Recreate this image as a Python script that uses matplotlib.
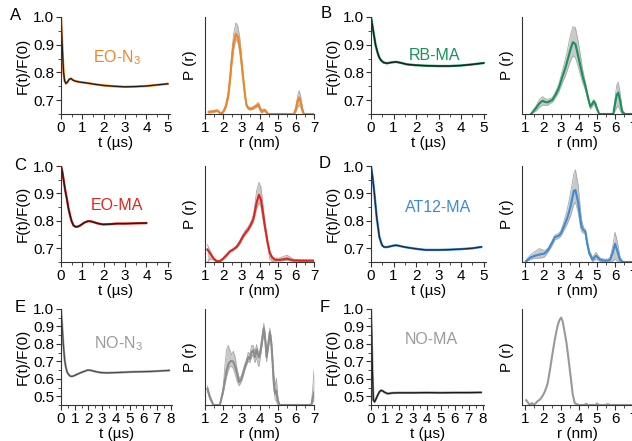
import matplotlib
matplotlib.use("Agg")
import matplotlib.pyplot as plt
from matplotlib.ticker import MultipleLocator

plt.rcParams['font.family'] = ['Liberation Sans', 'DejaVu Sans']
plt.rcParams['mathtext.default'] = 'regular'
plt.rcParams['font.size'] = 10

#===== TIME TRACES (t in us, F(t)/F(0)) =====#
tA = [0, 0.04, 0.08, 0.12, 0.17, 0.23, 0.3, 0.38, 0.47, 0.56, 0.7, 0.9, 1.2, 1.6, 2.0, 2.5, 3.0, 3.5, 4.0, 4.5, 5.0]
fA = [1.0, 0.93, 0.86, 0.80, 0.77, 0.76, 0.765, 0.775, 0.778, 0.772, 0.768, 0.765, 0.762, 0.757, 0.753, 0.75, 0.748, 0.749, 0.751, 0.755, 0.759]

tB = [0, 0.05, 0.1, 0.15, 0.2, 0.28, 0.35, 0.43, 0.55, 0.7, 0.9, 1.1, 1.3, 1.6, 2.0, 2.5, 3.0, 3.5, 4.0, 4.5, 5.0]
fB = [1.0, 0.975, 0.95, 0.925, 0.9, 0.875, 0.857, 0.845, 0.836, 0.833, 0.836, 0.838, 0.835, 0.829, 0.826, 0.824, 0.823, 0.823, 0.825, 0.829, 0.834]

tC = [0, 0.06, 0.12, 0.2, 0.28, 0.35, 0.43, 0.5, 0.58, 0.66, 0.74, 0.85, 0.97, 1.1, 1.27, 1.4, 1.5, 1.7, 1.96, 2.3, 2.6, 3.0, 3.5, 4.0]
fC = [1.0, 0.98, 0.95, 0.91, 0.878, 0.845, 0.818, 0.798, 0.784, 0.779, 0.778, 0.781, 0.787, 0.794, 0.799, 0.798, 0.796, 0.791, 0.787, 0.788, 0.790, 0.790, 0.791, 0.792]

tD = [0, 0.07, 0.15, 0.25, 0.37, 0.45, 0.51, 0.58, 0.66, 0.81, 0.95, 1.1, 1.25, 1.4, 1.6, 1.84, 2.1, 2.43, 3.0, 3.46, 4.0, 4.49, 4.9]
fD = [1.0, 0.96, 0.90, 0.815, 0.742, 0.72, 0.709, 0.705, 0.704, 0.706, 0.709, 0.711, 0.709, 0.706, 0.703, 0.70, 0.697, 0.694, 0.694, 0.695, 0.697, 0.70, 0.705]

tE = [0, 0.08, 0.15, 0.21, 0.27, 0.35, 0.44, 0.55, 0.68, 0.8, 0.93, 1.15, 1.41, 1.7, 1.95, 2.15, 2.39, 2.6, 2.88, 3.3, 4.1, 5.3, 6.5, 7.9]
fE = [1.0, 0.91, 0.82, 0.76, 0.707, 0.668, 0.64, 0.625, 0.615, 0.614, 0.617, 0.625, 0.634, 0.643, 0.65, 0.649, 0.644, 0.64, 0.636, 0.634, 0.636, 0.64, 0.642, 0.648]

tF = [0, 0.05, 0.1, 0.17, 0.26, 0.36, 0.48, 0.6, 0.72, 0.85, 0.95, 1.19, 1.55, 2.0, 3.0, 4.0, 5.0, 6.0, 7.0, 7.9]
fF = [1.0, 0.85, 0.65, 0.478, 0.468, 0.485, 0.506, 0.525, 0.534, 0.53, 0.524, 0.515, 0.519, 0.52, 0.52, 0.521, 0.52, 0.521, 0.521, 0.522]

#===== DISTANCE DISTRIBUTIONS (r in nm, P(r) relative) =====#
rA = [1.2, 1.4, 1.55, 1.65, 1.75, 1.86, 2.0, 2.15, 2.29, 2.4, 2.47, 2.58, 2.7, 2.8, 2.92, 3.0, 3.1, 3.2, 3.28, 3.38,
      3.47, 3.56, 3.65, 3.8, 3.93, 4.02, 4.11, 4.2, 4.3, 4.4, 4.48, 5.9, 6.0, 6.1, 6.18, 6.26, 6.35, 6.44, 7.0]
pA = [0.02, 0.025, 0.03, 0.035, 0.025, 0.005, 0.02, 0.08, 0.2, 0.4, 0.55, 0.73, 0.826, 0.80, 0.69, 0.55, 0.37, 0.2, 0.094, 0.06,
      0.052, 0.055, 0.06, 0.08, 0.10, 0.06, 0.024, 0.035, 0.04, 0.015, 0.0, 0.0, 0.05, 0.13, 0.17, 0.13, 0.05, 0.0, 0.0]
hiA = [0.03, 0.035, 0.04, 0.045, 0.035, 0.01, 0.03, 0.10, 0.24, 0.46, 0.63, 0.83, 0.94, 0.91, 0.78, 0.61, 0.41, 0.22, 0.11, 0.075,
       0.065, 0.07, 0.075, 0.095, 0.12, 0.08, 0.04, 0.05, 0.05, 0.025, 0.0, 0.0, 0.08, 0.19, 0.24, 0.19, 0.08, 0.0, 0.0]
loA = [0.01, 0.015, 0.02, 0.025, 0.015, 0.0, 0.01, 0.06, 0.17, 0.36, 0.50, 0.67, 0.77, 0.74, 0.63, 0.50, 0.33, 0.17, 0.08, 0.05,
       0.04, 0.045, 0.05, 0.065, 0.08, 0.04, 0.01, 0.02, 0.03, 0.005, 0.0, 0.0, 0.02, 0.07, 0.09, 0.07, 0.02, 0.0, 0.0]

rB = [1.33, 1.6, 1.8, 1.97, 2.1, 2.25, 2.4, 2.52, 2.7, 2.88, 3.05, 3.25, 3.4, 3.53, 3.66, 3.8, 3.95, 4.08, 4.2, 4.35,
      4.5, 4.63, 4.72, 4.81, 4.9, 4.99, 5.12, 5.9, 6.0, 6.1, 6.18, 6.28, 6.4, 6.55, 7.0]
pB = [0.0, 0.06, 0.11, 0.136, 0.125, 0.12, 0.135, 0.146, 0.2, 0.27, 0.37, 0.48, 0.58, 0.67, 0.74, 0.72, 0.6, 0.49, 0.39, 0.29,
      0.17, 0.077, 0.1, 0.13, 0.11, 0.06, 0.0, 0.0, 0.1, 0.2, 0.22, 0.14, 0.02, 0.0, 0.0]
hiB = [0.0, 0.08, 0.15, 0.18, 0.16, 0.15, 0.16, 0.17, 0.23, 0.31, 0.43, 0.57, 0.7, 0.82, 0.9, 0.89, 0.75, 0.6, 0.46, 0.33,
       0.19, 0.09, 0.11, 0.15, 0.13, 0.07, 0.0, 0.0, 0.16, 0.3, 0.33, 0.22, 0.05, 0.0, 0.0]
loB = [0.0, 0.03, 0.07, 0.09, 0.09, 0.09, 0.11, 0.12, 0.17, 0.23, 0.31, 0.40, 0.48, 0.55, 0.6, 0.58, 0.49, 0.40, 0.32, 0.25,
       0.14, 0.05, 0.07, 0.1, 0.08, 0.04, 0.0, 0.0, 0.03, 0.07, 0.08, 0.04, 0.0, 0.0, 0.0]

rC = [1.13, 1.3, 1.46, 1.6, 1.73, 1.85, 2.0, 2.2, 2.37, 2.55, 2.74, 2.9, 3.1, 3.25, 3.38, 3.5, 3.65, 3.75, 3.84, 3.97,
      4.08, 4.2, 4.3, 4.45, 4.57, 4.7, 4.85, 5.05, 5.21, 5.35, 5.52, 5.7, 5.85, 6.22, 7.0]
pC = [0.13, 0.085, 0.04, 0.015, 0.007, 0.012, 0.035, 0.075, 0.11, 0.13, 0.157, 0.2, 0.27, 0.31, 0.34, 0.38, 0.44, 0.53, 0.62, 0.70,
      0.65, 0.5, 0.37, 0.2, 0.094, 0.045, 0.024, 0.022, 0.024, 0.03, 0.035, 0.025, 0.017, 0.014, 0.014]
hiC = [0.18, 0.11, 0.05, 0.02, 0.012, 0.02, 0.045, 0.085, 0.12, 0.14, 0.17, 0.22, 0.29, 0.34, 0.37, 0.41, 0.48, 0.6, 0.74, 0.83,
       0.78, 0.58, 0.41, 0.22, 0.11, 0.06, 0.04, 0.04, 0.05, 0.06, 0.07, 0.05, 0.03, 0.025, 0.02]
loC = [0.0, 0.03, 0.02, 0.005, 0.0, 0.005, 0.025, 0.06, 0.1, 0.12, 0.145, 0.18, 0.25, 0.29, 0.32, 0.36, 0.41, 0.48, 0.55, 0.62,
       0.57, 0.43, 0.32, 0.16, 0.03, 0.005, 0.01, 0.012, 0.012, 0.015, 0.017, 0.012, 0.008, 0.008, 0.008]

rD = [1.05, 1.33, 1.55, 1.79, 2.06, 2.2, 2.34, 2.5, 2.66, 2.88, 3.0, 3.16, 3.35, 3.53, 3.71, 3.8, 3.95, 4.13, 4.25, 4.35,
      4.45, 4.57, 4.75, 4.94, 5.05, 5.18, 5.41, 5.6, 5.73, 5.88, 6.0, 6.12, 6.27, 6.45, 7.0]
pD = [0.007, 0.05, 0.065, 0.077, 0.087, 0.11, 0.146, 0.2, 0.26, 0.275, 0.3, 0.37, 0.46, 0.58, 0.74, 0.75, 0.62, 0.37, 0.33, 0.32,
      0.2, 0.094, 0.024, 0.066, 0.045, 0.024, 0.014, 0.015, 0.024, 0.1, 0.19, 0.12, 0.024, 0.0, 0.0]
hiD = [0.02, 0.08, 0.11, 0.14, 0.12, 0.13, 0.16, 0.22, 0.28, 0.3, 0.33, 0.42, 0.55, 0.72, 0.92, 0.96, 0.8, 0.45, 0.36, 0.34,
       0.23, 0.12, 0.05, 0.1, 0.07, 0.04, 0.03, 0.03, 0.05, 0.17, 0.31, 0.22, 0.06, 0.0, 0.0]
loD = [0.0, 0.03, 0.04, 0.04, 0.05, 0.08, 0.12, 0.17, 0.23, 0.25, 0.27, 0.33, 0.4, 0.48, 0.6, 0.62, 0.52, 0.32, 0.3, 0.29,
       0.17, 0.07, 0.005, 0.03, 0.02, 0.005, 0.0, 0.0, 0.0, 0.01, 0.03, 0.01, 0.0, 0.0, 0.0]

rE = [1.13, 1.27, 1.46, 1.82, 2.0, 2.1, 2.19, 2.28, 2.37, 2.47, 2.56, 2.66, 2.76, 2.88, 3.0, 3.1, 3.2, 3.3, 3.38, 3.47,
      3.56, 3.65, 3.75, 3.84, 3.92, 3.97, 4.05, 4.15, 4.24, 4.32, 4.39, 4.48, 4.57, 4.65, 4.72, 4.79, 4.87, 4.93, 5.0, 5.1,
      6.85, 6.92, 7.0]
pE = [0.17, 0.08, 0.0, 0.0, 0.15, 0.26, 0.36, 0.42, 0.45, 0.46, 0.45, 0.4, 0.33, 0.24, 0.27, 0.33, 0.4, 0.45, 0.5, 0.48,
      0.55, 0.57, 0.5, 0.58, 0.52, 0.5, 0.55, 0.68, 0.80, 0.68, 0.5, 0.62, 0.76, 0.65, 0.45, 0.22, 0.12, 0.15, 0.05, 0.0,
      0.0, 0.06, 0.13]
hiE = [0.2, 0.1, 0.0, 0.0, 0.18, 0.42, 0.58, 0.62, 0.57, 0.52, 0.56, 0.5, 0.38, 0.28, 0.3, 0.36, 0.43, 0.48, 0.55, 0.52,
       0.62, 0.62, 0.55, 0.63, 0.56, 0.54, 0.6, 0.74, 0.85, 0.72, 0.54, 0.66, 0.8, 0.69, 0.5, 0.3, 0.2, 0.28, 0.1, 0.0,
       0.0, 0.15, 0.36]
loE = [0.15, 0.06, 0.0, 0.0, 0.12, 0.22, 0.3, 0.36, 0.4, 0.4, 0.38, 0.32, 0.25, 0.2, 0.24, 0.3, 0.37, 0.42, 0.46, 0.44,
       0.5, 0.52, 0.44, 0.5, 0.42, 0.4, 0.5, 0.63, 0.76, 0.62, 0.45, 0.58, 0.72, 0.6, 0.4, 0.15, 0.05, 0.04, 0.0, 0.0,
       0.0, 0.02, 0.05]

rF = [1.06, 1.15, 1.24, 1.38, 1.5, 1.6, 1.7, 1.84, 1.97, 2.1, 2.25, 2.38, 2.52, 2.66, 2.8, 2.9, 3.0, 3.08, 3.16, 3.3,
      3.43, 3.55, 3.65, 3.76, 3.85, 4.0, 4.3, 4.4, 4.5, 4.9, 5.0, 5.1, 5.5, 5.6, 5.7, 7.0]
pF = [0.05, 0.03, 0.0, 0.02, 0.0, 0.02, 0.04, 0.06, 0.094, 0.14, 0.22, 0.36, 0.53, 0.69, 0.82, 0.88, 0.91, 0.88, 0.80, 0.65,
      0.46, 0.27, 0.11, 0.02, 0.01, 0.0, 0.0, 0.012, 0.0, 0.0, 0.015, 0.0, 0.0, 0.01, 0.0, 0.0]

#===== COLOURS / LABELS =====#
orange = '#F28522'
green = '#17925A'
red = '#E3241B'
blue = '#3D8BD6'
grey = '#9a9a9a'
band = '#c9c9c9'
band_edge = '#a8a8a8'

W, H = 632, 441
fig = plt.figure(figsize=(W / 100, H / 100), dpi=100)


def box(l, t, w, h):
    return [l / W, 1 - (t + h) / H, w / W, h / H]


def style(ax):
    for s in ['top', 'right']:
        ax.spines[s].set_visible(False)
    for s in ['left', 'bottom']:
        ax.spines[s].set_linewidth(0.8)
        ax.spines[s].set_color('#333333')
    ax.tick_params(which='major', direction='out', length=3.5, width=0.8, pad=1.5, labelsize=11, color='#333333')
    ax.tick_params(which='minor', direction='out', length=2, width=0.6, color='#333333')


def trace(ax, t, f, col, fitcol, xmax, ymin):
    style(ax)
    ax.plot(t, f, color=col, lw=1.7, solid_capstyle='round')
    ax.plot(t, f, color=fitcol, lw=0.9)
    ax.set_xlim(0, xmax + 0.1)
    ax.set_ylim(ymin, 1.0)
    ax.set_xticks(range(0, int(xmax) + 1))
    ax.xaxis.set_minor_locator(MultipleLocator(0.5))
    ax.yaxis.set_minor_locator(MultipleLocator(0.05))
    yt = [v / 10 for v in range(int(round(ymin * 10 + 0.5)), 11)]
    ax.set_yticks(yt)
    ax.set_yticklabels(['%.1f' % v for v in yt])
    ax.set_ylabel('F(t)/F(0)', fontsize=11, labelpad=2)
    ax.set_xlabel('t (µs)', fontsize=11, labelpad=1)


def dist(ax, r, p, lo, hi, col, x0):
    style(ax)
    if lo is not None:
        ax.fill_between(r, lo, hi, color=band, lw=0)
        ax.plot(r, lo, color=band_edge, lw=0.6)
        ax.plot(r, hi, color=band_edge, lw=0.6)
    ax.plot(r, p, color=col, lw=1.5)
    ax.set_xlim(x0, 7)
    ax.set_ylim(0, 1.0)
    ax.set_xticks(range(1, 8))
    ax.xaxis.set_minor_locator(MultipleLocator(0.5))
    ax.set_yticks([])
    ax.set_ylabel('P (r)', fontsize=11, labelpad=6)
    ax.set_xlabel('r (nm)', fontsize=11, labelpad=1)


rows = [(17, 97), (166, 96), (309, 96)]

# Row 1
axA = fig.add_axes(box(61, rows[0][0], 109, rows[0][1]))
trace(axA, tA, fA, orange, '#1a1a1a', 5, 0.65)
axA2 = fig.add_axes(box(205, rows[0][0], 109, rows[0][1]))
dist(axA2, rA, pA, loA, hiA, orange, 1)

axB = fig.add_axes(box(371, rows[0][0], 115, rows[0][1]))
trace(axB, tB, fB, green, '#1a1a1a', 5, 0.65)
axB2 = fig.add_axes(box(522, rows[0][0], 111, rows[0][1]))
dist(axB2, rB, pB, loB, hiB, green, 0.83)

# Row 2
axC = fig.add_axes(box(61, rows[1][0], 109, rows[1][1]))
trace(axC, tC, fC, red, '#1a1a1a', 5, 0.65)
axC2 = fig.add_axes(box(205, rows[1][0], 109, rows[1][1]))
dist(axC2, rC, pC, loC, hiC, red, 1)

axD = fig.add_axes(box(371, rows[1][0], 115, rows[1][1]))
trace(axD, tD, fD, blue, '#1a2a40', 5, 0.65)
axD2 = fig.add_axes(box(522, rows[1][0], 111, rows[1][1]))
dist(axD2, rD, pD, loD, hiD, blue, 0.83)

# Row 3
axE = fig.add_axes(box(61, rows[2][0], 111, rows[2][1]))
trace(axE, tE, fE, '#b0b0b0', '#4a4a4a', 8, 0.45)
axE2 = fig.add_axes(box(205, rows[2][0], 109, rows[2][1]))
dist(axE2, rE, pE, loE, hiE, '#8c8c8c', 1)

axF = fig.add_axes(box(371, rows[2][0], 113, rows[2][1]))
trace(axF, tF, fF, '#909090', '#1a1a1a', 8, 0.45)
axF2 = fig.add_axes(box(522, rows[2][0], 111, rows[2][1]))
dist(axF2, rF, pF, None, None, '#999999', 0.83)

# sample names
names = [(117, 58, 'EO-N$_3$', orange), (434, 56, 'RB-MA', green), (117, 206, 'EO-MA', red),
         (438, 207, 'AT12-MA', blue), (118, 344, 'NO-N$_3$', grey), (431, 339, 'NO-MA', grey)]
for x, y, s, c in names:
    fig.text(x / W, 1 - y / H, s, color=c, fontsize=11.5, ha='center', va='center')

# panel letters
letters = [(16, 15, 'A'), (326, 14, 'B'), (20, 165, 'C'), (325, 163, 'D'), (20, 307, 'E'), (325, 308, 'F')]
for x, y, s in letters:
    fig.text(x / W, 1 - y / H, s, fontsize=12, ha='center', va='center')

fig.savefig('out.png', dpi=100)
